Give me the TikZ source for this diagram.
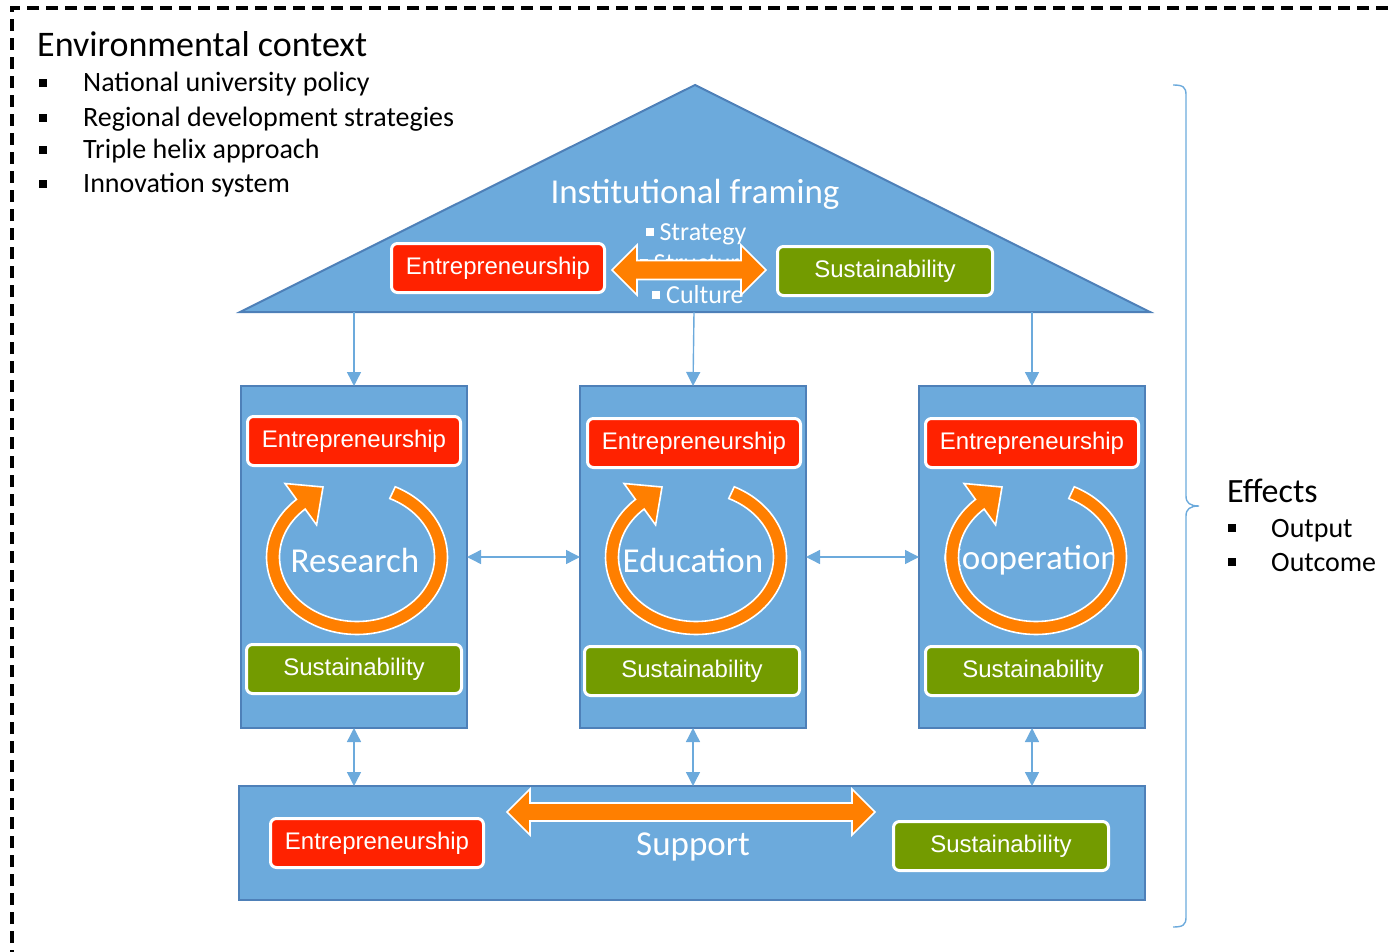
\documentclass[tikz,border=0pt]{standalone}
\usepackage{fontspec}
\setmainfont{Carlito}
\newfontfamily\arialfont{Liberation Sans}
\usetikzlibrary{arrows.meta}
\definecolor{pillarblue}{RGB}{108,170,220}
\definecolor{pillaredge}{RGB}{78,128,184}
\definecolor{entred}{RGB}{255,34,0}
\definecolor{susgreen}{RGB}{115,155,0}
\definecolor{ringorange}{RGB}{255,127,0}
\definecolor{linkblue}{RGB}{108,170,220}
\newcommand\fsz[1]{\fontsize{#1}{#1}\selectfont}
\newcommand\sqbul{\rule[4pt]{8pt}{8pt}}
% circular arrow: centre (#1,#2)
\newcommand\ringarrow[2]{%
  \filldraw[ringorange, draw=white, line width=1.6]
    plot[domain=-65:228, samples=90] ({#1+90.5*cos(\x)},{#2+77.5*sin(\x)})
    -- ({#1-72},{#2-73.5}) -- ({#1-34},{#2-70}) -- ({#1-40.4},{#2-32.1})
    -- plot[domain=228:-65, samples=90] ({#1+77.5*cos(\x)},{#2+64.5*sin(\x)})
    -- cycle;}
% horizontal double block arrow: x1 x2 yc headlen headhalf shafthalf
\newcommand\blockarrow[6]{%
  \filldraw[ringorange, draw=white, line width=1.6]
    (#1,#3) -- ({#1+#4},{#3-#5}) -- ({#1+#4},{#3-#6}) -- ({#2-#4},{#3-#6})
    -- ({#2-#4},{#3-#5}) -- (#2,#3) -- ({#2-#4},{#3+#5}) -- ({#2-#4},{#3+#6})
    -- ({#1+#4},{#3+#6}) -- ({#1+#4},{#3+#5}) -- cycle;}
\tikzset{
  bluebox/.style={draw=pillaredge, fill=pillarblue, line width=2, inner sep=0, outer sep=0},
  entbox/.style={fill=entred, draw=white, line width=3, rounded corners=6,
    minimum width=213, minimum height=49, inner sep=0, text=white, font=\arialfont\fsz{24}},
  susbox/.style={fill=susgreen, draw=white, line width=3, rounded corners=6,
    minimum width=215, minimum height=49, inner sep=0, text=white, font=\arialfont\fsz{24}},
  biglabel/.style={text=white, font=\fsz{35}, inner sep=0},
  link1/.style={draw=linkblue, line width=1.4, -{Triangle[length=14pt,width=14pt]}},
  link2/.style={draw=linkblue, line width=1.4, {Triangle[length=14pt,width=14pt]}-{Triangle[length=14pt,width=14pt]}},
  bullettext/.style={anchor=base west, inner sep=0, font=\fsz{28}},
  bulletsq/.style={fill=black, minimum size=8, inner sep=0},
  roofitem/.style={text=white, font=\fsz{26}, inner sep=0, anchor=base},
}
\begin{document}
\begin{tikzpicture}[x=1pt, y=-1pt]
\useasboundingbox (0,0) rectangle (1388,952);
% dashed frame (extends beyond picture)
\begin{scope}
\clip (0,0) rectangle (1388,952);
\draw[black, line width=3.2, dash pattern=on 12pt off 7pt] (12,1000) -- (12,8) -- (1400,8);
\end{scope}
% Environmental context
\node[anchor=base west, inner sep=0, font=\fsz{36}] (envtitle) at (37,57) {Environmental context};
\foreach \yy/\tt [count=\i] in {92/National university policy, 127/Regional development strategies, 159/Triple helix approach, 193/Innovation system}{
  \node[bulletsq] (eb\i) at (43,\yy-9) {};
  \node[bullettext] (et\i) at (83,\yy) {\tt};
}
% roof
\draw[bluebox] (240,312) -- (695,85) -- (1150,312) -- cycle;
\coordinate (roofA) at (354,312);
\coordinate (roofB) at (694,312);
\coordinate (roofC) at (1032,312);
\node[biglabel] (instit) at (695,194) {Institutional framing};
\node[roofitem] (strat) at (696,240) {\sqbul\ Strategy};
\node[roofitem] (struc) at (696,271) {\sqbul\ Structure};
\node[roofitem] (cult) at (698,303) {\sqbul\ Culture};
\node[entbox] (topE) at (498,268) {Entrepreneurship};
\node[susbox] (topS) at (885,271) {Sustainability};
\blockarrow{612}{766}{270}{25}{25}{9.5}
% pillars
\node[bluebox, minimum width=226, minimum height=342] (research) at (354,557) {};
\node[bluebox, minimum width=226, minimum height=342] (education) at (693,557) {};
\node[bluebox, minimum width=226, minimum height=342] (cooperation) at (1032,557) {};
\node[entbox] (resE) at (354,441) {Entrepreneurship};
\node[entbox] (eduE) at (694,443) {Entrepreneurship};
\node[entbox] (coopE) at (1032,443) {Entrepreneurship};
\node[susbox] (resS) at (354,669) {Sustainability};
\node[susbox] (eduS) at (692,671) {Sustainability};
\node[susbox] (coopS) at (1033,671) {Sustainability};
\node[biglabel] (resL) at (355,560) {Research};
\node[biglabel] (eduL) at (693,560) {Education};
\node[biglabel] (coopL) at (1031,560) {Cooperation};
\ringarrow{357}{557}
\ringarrow{696}{557}
\ringarrow{1036}{557}
% support
\node[bluebox, minimum width=906, minimum height=114] (support) at (692,843) {};
\node[biglabel] (supL) at (693,847) {Support};
\node[entbox] (supE) at (377,843) {Entrepreneurship};
\node[susbox] (supS) at (1001,846) {Sustainability};
\blockarrow{507}{875}{812}{23}{23}{9}
% connectors
\draw[link1] (roofA) -- (research.north);
\draw[link1] (roofB) -- (education.north);
\draw[link1] (roofC) -- (cooperation.north);
\draw[link2] (research.east) -- (education.west);
\draw[link2] (education.east) -- (cooperation.west);
\draw[link2] (research.south) -- (research.south |- support.north);
\draw[link2] (education.south) -- (education.south |- support.north);
\draw[link2] (cooperation.south) -- (cooperation.south |- support.north);
% brace
\coordinate (brT) at (1173,85);
\coordinate (brB) at (1173,927);
\coordinate (brM) at (1199,506);
\draw[linkblue, line width=1.4] (brT) .. controls (1183,85) and (1186,87) .. (1186,95)
  -- (1186,496) .. controls (1186,503) and (1190,506) .. (brM)
  .. controls (1190,506) and (1186,509) .. (1186,516)
  -- (1186,917) .. controls (1186,925) and (1183,927) .. (brB);
% Effects
\node[anchor=base west, inner sep=0, font=\fsz{34}] (effects) at (1227,502) {Effects};
\node[bulletsq] (fb1) at (1232,528) {};
\node[bullettext] (ft1) at (1271,537) {Output};
\node[bulletsq] (fb2) at (1232,562) {};
\node[bullettext] (ft2) at (1271,571) {Outcome};
\end{tikzpicture}
\end{document}
